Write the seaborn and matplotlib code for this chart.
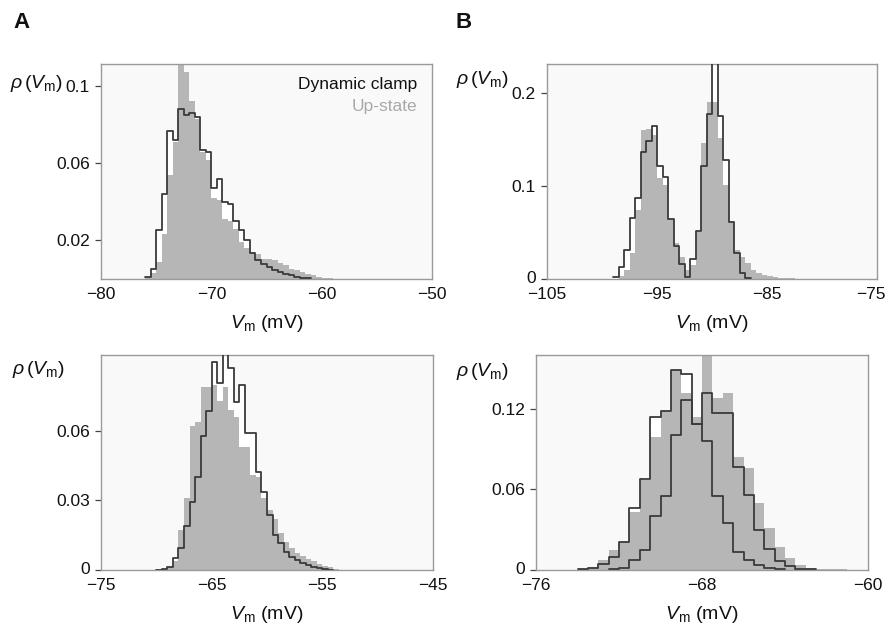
import numpy as np
import pandas as pd
import matplotlib
matplotlib.use("Agg")
import matplotlib.pyplot as plt
import matplotlib.transforms as mtransforms
import seaborn as sns

# ---------------------------------------------------------------------------
# Membrane-potential densities rho(Vm), 0.5 mV bins (value = density per bin)
# ---------------------------------------------------------------------------
BIN = 0.5

# Panel A, top
a1_clamp_start = -76.0
a1_clamp = [0.0008, 0.005, 0.0255, 0.044, 0.0766, 0.072, 0.088, 0.085, 0.086,
            0.084, 0.067, 0.066, 0.047, 0.052, 0.040, 0.039, 0.030, 0.0255,
            0.020, 0.0135, 0.010, 0.0078, 0.006, 0.0047, 0.0037, 0.0028,
            0.002, 0.0012, 0.0007, 0.0003]
a1_up_start = -76.0
a1_up = [0.001, 0.003, 0.009, 0.0235, 0.054, 0.071, 0.125, 0.107, 0.092,
         0.083, 0.066, 0.0616, 0.042, 0.041, 0.031, 0.030, 0.026, 0.019,
         0.016, 0.014, 0.013, 0.0105, 0.0105, 0.0096, 0.0085, 0.007, 0.0053,
         0.0045, 0.0036, 0.0025, 0.0019, 0.0012, 0.0007, 0.0004, 0.0002,
         0.0001]

# Panel B, top
b1_clamp_start = -99.0
b1_clamp = [0.0025, 0.013, 0.031, 0.066, 0.087, 0.136, 0.148, 0.164, 0.121,
            0.110, 0.064, 0.035, 0.016, 0.002, 0.022, 0.052, 0.121, 0.177,
            0.26, 0.175, 0.128, 0.061, 0.028, 0.006, 0.001]
b1_up_start = -98.5
b1_up = [0.003, 0.0097, 0.028, 0.074, 0.160, 0.161, 0.155, 0.109, 0.101,
         0.064, 0.0385, 0.024, 0.0097, 0.015, 0.05, 0.146, 0.19, 0.19, 0.152,
         0.101, 0.061, 0.031, 0.024, 0.017, 0.0097, 0.006, 0.0045, 0.003,
         0.0025, 0.0015, 0.001, 0.0008, 0.0005, 0.0003]

# Panel A, bottom
a2_clamp_start = -70.0
a2_clamp = [0.0002, 0.0005, 0.0013, 0.005, 0.0096, 0.019, 0.0295, 0.040,
            0.058, 0.0686, 0.0896, 0.0806, 0.097, 0.087, 0.0727, 0.080, 0.059,
            0.059, 0.0424, 0.0338, 0.0237, 0.015, 0.0115, 0.0079, 0.0058,
            0.0043, 0.0029, 0.0022, 0.0014, 0.0009, 0.0005, 0.0002]
a2_up_start = -69.5
a2_up = [0.0005, 0.0015, 0.004, 0.0173, 0.031, 0.062, 0.064, 0.079, 0.079,
         0.080, 0.073, 0.079, 0.069, 0.066, 0.053, 0.053, 0.041, 0.040, 0.031,
         0.026, 0.022, 0.0158, 0.012, 0.0094, 0.0075, 0.0062, 0.0048, 0.0038,
         0.0028, 0.0018, 0.0011, 0.0005, 0.0002]

# Panel B, bottom (two clamp recordings)
b2_clamp_start = -74.0
b2_clamp = [0.0005, 0.0012, 0.0045, 0.0099, 0.021, 0.046, 0.0675, 0.114,
            0.118, 0.149, 0.146, 0.109, 0.132, 0.1168, 0.1168, 0.077, 0.056,
            0.030, 0.016, 0.007, 0.003, 0.001, 0.0005]
b2_clamp2_start = -72.5
b2_clamp2 = [0.0005, 0.0015, 0.0075, 0.0149, 0.040, 0.0547, 0.1006, 0.1267,
             0.109, 0.0957, 0.0547, 0.035, 0.0137, 0.0075, 0.0038, 0.0015,
             0.0005]
b2_up_start = -74.0
b2_up = [0.0008, 0.0025, 0.0075, 0.015, 0.021, 0.043, 0.067, 0.099, 0.118,
         0.149, 0.132, 0.114, 0.175, 0.128, 0.132, 0.0844, 0.076, 0.05, 0.031,
         0.0174, 0.0087, 0.0037, 0.0012, 0.0007, 0.0005, 0.0004, 0.0003]

# Axis ranges and ticks
a1_xticks = [-80, -70, -60, -50]
a1_yticks = [0.02, 0.06, 0.1]
a1_yticklabels = ["0.02", "0.06", "0.1"]
b1_xticks = [-105, -95, -85, -75]
b1_yticks = [0, 0.1, 0.2]
b1_yticklabels = ["0", "0.1", "0.2"]
a2_xticks = [-75, -65, -55, -45]
a2_yticks = [0, 0.03, 0.06]
a2_yticklabels = ["0", "0.03", "0.06"]
b2_xticks = [-76, -68, -60]
b2_yticks = [0, 0.06, 0.12]
b2_yticklabels = ["0", "0.06", "0.12"]

legend_labels = ["Dynamic clamp", "Up-state"]

# ---------------------------------------------------------------------------
sns.set_theme(style="white")
plt.rcParams["font.family"] = ["Liberation Sans", "DejaVu Sans"]
plt.rcParams["mathtext.fontset"] = "custom"
plt.rcParams["mathtext.rm"] = "Liberation Sans"
plt.rcParams["mathtext.it"] = "Liberation Sans:italic"
plt.rcParams["axes.unicode_minus"] = True

GRAY = "#b6b6b6"
DARK = "#3a3a3a"
FACE = "#f9f9f9"
SPINE = "#9a9a9a"

W, H = 889, 624
fig = plt.figure(figsize=(W / 100, H / 100), dpi=100)
fig.patch.set_facecolor("white")


def px_axes(left, top, right, bottom):
    return fig.add_axes([left / W, 1 - bottom / H, (right - left) / W,
                         (bottom - top) / H])


def layer(ax, start, vals, **kw):
    vals = [float(v) for v in vals]
    edges = [start + BIN * i for i in range(len(vals) + 1)]
    df = pd.DataFrame({"vm": [e + BIN / 2 for e in edges[:-1]],
                       "density": vals})
    sns.histplot(data=df, x="vm", weights="density", bins=edges,
                 stat="count", element="step", ax=ax, **kw)


def shift_label(lbl, dx_px, dy_px):
    off = mtransforms.ScaledTranslation(dx_px / 100, dy_px / 100,
                                        fig.dpi_scale_trans)
    lbl.set_transform(lbl.get_transform() + off)


def panel(ax, up, clamps, xlim, ylim, xticks, yticks, yticklabels):
    ax.set_facecolor(FACE)
    # white interior under the clamp outline(s) that carry a fill
    for start, vals, filled in clamps:
        if filled:
            layer(ax, start, vals, fill=True, color="white", alpha=1,
                  linewidth=0, zorder=1)
    layer(ax, up[0], up[1], fill=True, color=GRAY, alpha=1, linewidth=0,
          zorder=2)
    for start, vals, _ in clamps:
        layer(ax, start, vals, fill=False, color=DARK, linewidth=1.3,
              zorder=3)
    ax.set_xlim(*xlim)
    ax.set_ylim(*ylim)
    ax.set_xticks(xticks)
    ax.set_xticklabels([f"{t:d}".replace("-", "\u2212") for t in xticks])
    ax.set_yticks(yticks)
    ax.set_yticklabels(yticklabels)
    ax.set_xlabel("")
    ax.set_ylabel("")
    for s in ax.spines.values():
        s.set_color(SPINE)
        s.set_linewidth(1.0)
    ax.tick_params(axis="y", left=True, length=4, width=0.9, color="#444444",
                   pad=4, labelsize=12.5, labelcolor="#111111")
    ax.tick_params(axis="x", bottom=False, length=0, pad=5.5, labelsize=12.5,
                   labelcolor="#111111")
    # keep a zero label clear of the first x tick label
    if yticks[0] == 0:
        shift_label(ax.get_yticklabels()[0], 0, 2)
    ax.text(0.5, -0.205, r"$V_{\rm m}$ (mV)", transform=ax.transAxes,
            ha="center", va="center", fontsize=14, color="#111111")


ax_a1 = px_axes(101, 64, 432, 279)
panel(ax_a1, (a1_up_start, a1_up), [(a1_clamp_start, a1_clamp, True)],
      (-80, -50), (0, 0.1114), a1_xticks, a1_yticks, a1_yticklabels)

ax_b1 = px_axes(547, 64, 877, 279)
panel(ax_b1, (b1_up_start, b1_up), [(b1_clamp_start, b1_clamp, True)],
      (-105, -75), (0, 0.231), b1_xticks, b1_yticks, b1_yticklabels)
shift_label(ax_b1.get_xticklabels()[-1], -6, 0)

ax_a2 = px_axes(101, 355, 433, 570)
panel(ax_a2, (a2_up_start, a2_up), [(a2_clamp_start, a2_clamp, True)],
      (-75, -45), (0, 0.0928), a2_xticks, a2_yticks, a2_yticklabels)

ax_b2 = px_axes(536, 355, 868, 570)
panel(ax_b2, (b2_up_start, b2_up),
      [(b2_clamp_start, b2_clamp, True), (b2_clamp2_start, b2_clamp2, False)],
      (-76, -60), (0, 0.160), b2_xticks, b2_yticks, b2_yticklabels)

# Legend as coloured text
ax_a1.text(0.955, 0.905, legend_labels[0], transform=ax_a1.transAxes,
           ha="right", va="center", fontsize=12.5, color="#111111")
ax_a1.text(0.955, 0.80, legend_labels[1], transform=ax_a1.transAxes,
           ha="right", va="center", fontsize=12.5, color="#a8a8a8")

# y-axis labels rho(Vm)
ylab = r"$\rho\,(V_{\rm m})$"
for x, y in [(10, 83), (456, 80), (12, 370), (456, 372)]:
    fig.text(x / W, 1 - y / H, ylab, ha="left", va="center", fontsize=14,
             color="#111111")

# Panel letters
fig.text(13 / W, 1 - 23 / H, "A", ha="left", va="center", fontsize=16,
         fontweight="bold", color="#111111")
fig.text(456 / W, 1 - 23 / H, "B", ha="left", va="center", fontsize=16,
         fontweight="bold", color="#111111")

fig.savefig("out.png", dpi=100, facecolor="white")
